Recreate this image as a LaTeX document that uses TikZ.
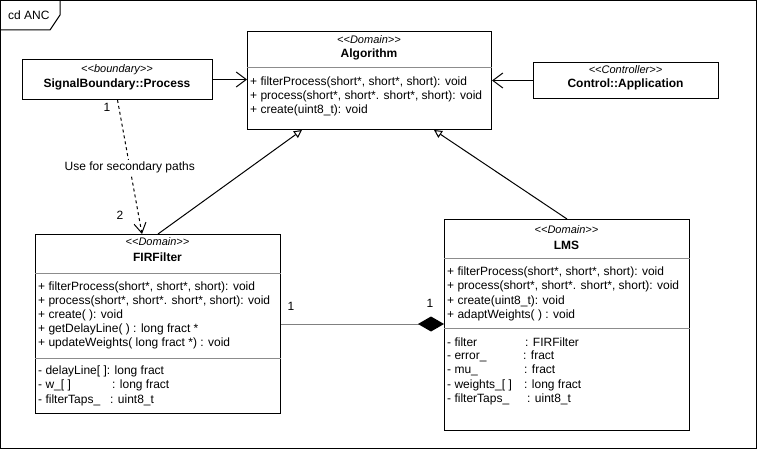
\documentclass[tikz,border=0pt]{standalone}
\usepackage{fontspec}
\setmainfont{Liberation Sans}
\usetikzlibrary{arrows.meta}
\newcommand\lgl{<{}<}
\newcommand\rgl{>{}>}
\tikzset{
  box/.style={draw=black, line width=1pt, fill=white, inner sep=0pt, anchor=north west},
  sep/.style={draw=gray!90, line width=1pt},
  txt/.style={inner sep=0pt, anchor=west, font=\fontsize{12}{14}\selectfont},
  stereo/.style={inner sep=0pt, font=\itshape\fontsize{11}{13}\selectfont},
  cname/.style={inner sep=0pt, font=\bfseries\fontsize{12}{14}\selectfont},
  lbl/.style={inner sep=1pt, font=\fontsize{12}{14}\selectfont},
  assoc/.style={line width=1pt, -{Straight Barb[length=10pt,width=15pt,line width=1pt]}},
  gen/.style={line width=1pt, -{Triangle[open,length=8pt,width=8pt,fill=white,line width=1pt]}},
  dep/.style={line width=1pt, dash pattern=on 3pt off 3pt, -{Straight Barb[length=10pt,width=12pt,line width=1pt]}},
  comp/.style={line width=1pt, draw=gray, -{Diamond[length=26pt,width=15pt,fill=black,color=black]}},
}
\begin{document}
\begin{tikzpicture}[x=1pt,y=-1pt]
\useasboundingbox (0,0) rectangle (757,449);
% frame
\draw[line width=1pt] (0.5,0.5) rectangle (756,448);
\draw[line width=1pt] (0.5,30) -- (50,30) -- (60,15) -- (60,0.5);
\node[txt] (title) at (8,15) {cd ANC};

% SignalBoundary::Process
\node[box, minimum width=190pt, minimum height=40pt] (sb) at (22,59) {};
\node[stereo] (sbst) at (117,70) {\lgl boundary\rgl};
\node[cname] (sbnm) at (117,84) {SignalBoundary::Process};

% Algorithm
\node[box, minimum width=244pt, minimum height=98pt] (alg) at (247,31) {};
\node[stereo] (algst) at (369,40) {\lgl Domain\rgl};
\node[cname] (algnm) at (369,54) {Algorithm};
\draw[sep] (alg.north west |- 0,68) -- (alg.north east |- 0,68);
\node[txt] (alg1) at (250,82) {+ filterProcess(short*, short*, short): void};
\node[txt] (alg2) at (250,96) {+ process(short*, short*. short*, short): void};
\node[txt] (alg3) at (250,110) {+ create(uint8\_t): void};

% Control::Application
\node[box, minimum width=185pt, minimum height=36pt] (ctl) at (533,62) {};
\node[stereo] (ctlst) at (625.5,70) {\lgl Controller\rgl};
\node[cname] (ctlnm) at (625.5,84) {Control::Application};

% FIRFilter
\node[box, minimum width=245pt, minimum height=179pt] (fir) at (35,234) {};
\node[stereo] (first) at (157.5,242) {\lgl Domain\rgl};
\node[cname] (firnm) at (157.5,257) {FIRFilter};
\draw[sep] (fir.north west |- 0,273) -- (fir.north east |- 0,273);
\node[txt] (fir1) at (38,287) {+ filterProcess(short*, short*, short): void};
\node[txt] (fir2) at (38,301) {+ process(short*, short*. short*, short): void};
\node[txt] (fir3) at (38,315) {+ create( ): void};
\node[txt] (fir4) at (38,329) {+ getDelayLine( ) : long fract *};
\node[txt] (fir5) at (38,343) {+ updateWeights( long fract *) : void};
\draw[sep] (fir.north west |- 0,358) -- (fir.north east |- 0,358);
\node[txt] (fir6) at (38,371) {- delayLine[ ]: long fract};
\node[txt] (fir7) at (38,385) {\makebox[74pt][l]{- w\_[ ]}: long fract};
\node[txt] (fir8) at (38,400) {\makebox[72pt][l]{- filterTaps\_}: uint8\_t};

% LMS
\node[box, minimum width=245pt, minimum height=211pt] (lms) at (444,219) {};
\node[stereo] (lmsst) at (566.5,230) {\lgl Domain\rgl};
\node[cname] (lmsnm) at (566.5,245) {LMS};
\draw[sep] (lms.north west |- 0,258) -- (lms.north east |- 0,258);
\node[txt] (lms1) at (447,272) {+ filterProcess(short*, short*, short): void};
\node[txt] (lms2) at (447,286) {+ process(short*, short*. short*, short): void};
\node[txt] (lms3) at (447,301) {+ create(uint8\_t): void};
\node[txt] (lms4) at (447,315) {+ adaptWeights( ) : void};
\draw[sep] (lms.north west |- 0,328) -- (lms.north east |- 0,328);
\node[txt] (lms5) at (447,342) {\makebox[78pt][l]{- filter}: FIRFilter};
\node[txt] (lms6) at (447,356) {\makebox[76pt][l]{- error\_}: fract};
\node[txt] (lms7) at (447,370) {\makebox[77pt][l]{- mu\_}: fract};
\node[txt] (lms8) at (447,385) {\makebox[77pt][l]{- weights\_[ ]}: long fract};
\node[txt] (lms9) at (447,399) {\makebox[80pt][l]{- filterTaps\_}: uint8\_t};

% connectors
\draw[assoc] (sb.east) -- (alg.west |- sb.east);
\draw[assoc] (ctl.west) -- (alg.east |- ctl.west);
\draw[gen] (fir.north) -- ([xshift=55pt]alg.south west);
\draw[gen] (lms.north) -- ([xshift=-58pt]alg.south east);
\draw[dep] (sb.south) -- ([xshift=107pt]fir.north west)
  node[pos=0.5, fill=white, lbl] (deplbl) {Use for secondary paths};
\node[lbl] (m1) at (107,107) {1};
\node[lbl] (m2) at (120,215) {2};
\draw[comp] (fir.east) -- (lms.west |- fir.east);
\node[lbl] (m3) at (291,306) {1};
\node[lbl] (m4) at (430,303) {1};
\end{tikzpicture}
\end{document}
